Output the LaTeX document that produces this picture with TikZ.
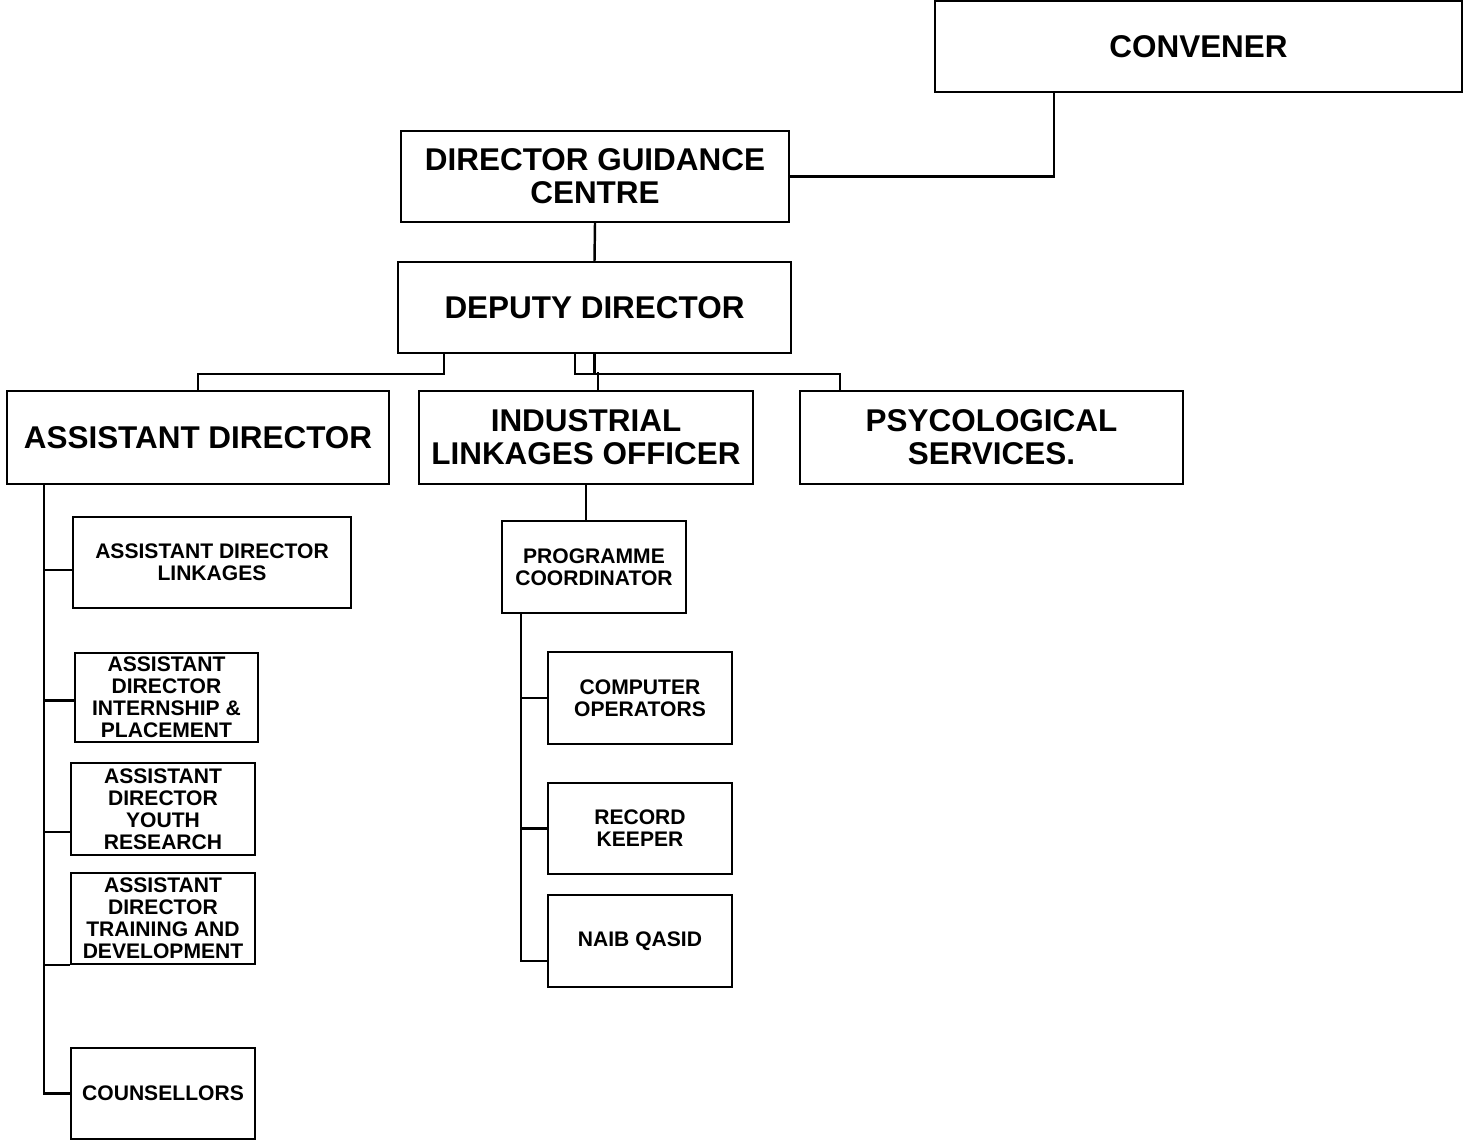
\documentclass[tikz,border=0pt]{standalone}
\usepackage{fontspec}
\setmainfont{Liberation Sans}
\usetikzlibrary{positioning,calc}

\tikzset{
  unit/.style={draw, line width=1.4pt, align=center, inner sep=0pt},
  bigunit/.style={unit, font=\fontsize{17.9}{18.7}\selectfont\bfseries},
  smallunit/.style={unit, font=\fontsize{12}{12.5}\selectfont\bfseries},
  link/.style={line width=1.4pt}
}

\begin{document}
\begin{tikzpicture}[x=0.02cm, y=-0.02cm]
    \useasboundingbox (0,0) rectangle (1470,1141);
    % top of the chart
    \node[bigunit, minimum width=10.54cm, minimum height=1.82cm] (conv) at (1198.5,46.5) {CONVENER};
    \node[bigunit, minimum width=7.76cm, minimum height=1.82cm] (dgc) at (595,176.5) {DIRECTOR GUIDANCE\\CENTRE};
    \node[bigunit, minimum width=7.86cm, minimum height=1.82cm] (dep) at (594.5,307.5) {DEPUTY DIRECTOR};
    % second row
    \node[bigunit, minimum width=7.64cm, minimum height=1.86cm] (asd) at (198,437.5) {ASSISTANT DIRECTOR};
    \node[bigunit, minimum width=6.68cm, minimum height=1.86cm] (ind) at (586,437.5) {INDUSTRIAL\\LINKAGES OFFICER};
    \node[bigunit, minimum width=7.66cm, minimum height=1.86cm] (psy) at (991.5,437.5) {PSYCOLOGICAL\\SERVICES.};
    % under the assistant director
    \node[smallunit, minimum width=5.56cm, minimum height=1.82cm] (adl) at (212,562.5) {ASSISTANT DIRECTOR\\LINKAGES};
    \node[smallunit, minimum width=3.66cm, minimum height=1.78cm] (adi) at (166.5,697.5) {ASSISTANT\\DIRECTOR\\INTERNSHIP \&\\PLACEMENT};
    \node[smallunit, minimum width=3.68cm, minimum height=1.84cm] (ady) at (163,809) {ASSISTANT\\DIRECTOR\\YOUTH\\RESEARCH};
    \node[smallunit, minimum width=3.68cm, minimum height=1.82cm] (adt) at (163,918.5) {ASSISTANT\\DIRECTOR\\TRAINING AND\\DEVELOPMENT};
    \node[smallunit, minimum width=3.68cm, minimum height=1.82cm] (cou) at (163,1093.5) {COUNSELLORS};
    % under the industrial linkages officer
    \node[smallunit, minimum width=3.68cm, minimum height=1.84cm] (prg) at (594,567) {PROGRAMME\\COORDINATOR};
    \node[smallunit, minimum width=3.68cm, minimum height=1.84cm] (cmp) at (640,698) {COMPUTER\\OPERATORS};
    \node[smallunit, minimum width=3.68cm, minimum height=1.82cm] (rec) at (640,828.5) {RECORD\\KEEPER};
    \node[smallunit, minimum width=3.68cm, minimum height=1.84cm] (nqs) at (640,941) {NAIB QASID};

    % connectors
    \draw[link] ($(conv.south west)+(120,0)$) |- (dgc.east);
    \draw[link] (dgc.south) -- (dep.north);
    \draw[link] ($(dep.south west)+(47,0)$) -- ++(0,20) -| (asd.north);
    \draw[link] ($(dep.south west)+(178,0)$) -- ++(0,20) -| ($(psy.north west)+(41,0)$);
    \draw[link] (dep.south) -- ++(0,20);
    \draw[link] ($(ind.north west)+(180,0)$) -- ++(0,-18);
    \draw[link] (ind.south) -- (ind.south |- prg.north);

    \coordinate (atop) at ($(asd.south west)+(38,0)$);
    \coordinate (b1) at ($(adl.south west)+(0,-39)$);
    \coordinate (b2) at ($(adi.west)+(0,3)$);
    \coordinate (b3) at ($(ady.south west)+(0,-24)$);
    \coordinate (b4) at (adt.south west);
    \draw[link] (atop) |- (cou.west);
    \foreach \b in {b1,b2,b3,b4}
        \draw[link] (atop |- \b) -- (\b);

    \coordinate (ptop) at ($(prg.south west)+(20,0)$);
    \coordinate (c3) at ($(nqs.west)+(0,20)$);
    \draw[link] (ptop) |- (c3);
    \draw[link] (ptop |- cmp.west) -- (cmp.west);
    \draw[link] (ptop |- rec.west) -- (rec.west);
\end{tikzpicture}
\end{document}
